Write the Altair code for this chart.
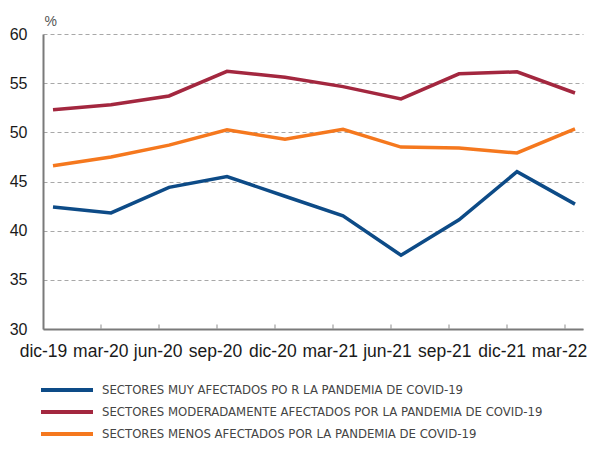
import altair as alt
import pandas as pd

periods = ["dic-19", "mar-20", "jun-20", "sep-20", "dic-20", "mar-21", "jun-21", "sep-21", "dic-21", "mar-22"]
series_names = [
    "SECTORES MUY AFECTADOS PO R LA PANDEMIA DE COVID-19",
    "SECTORES MODERADAMENTE AFECTADOS POR LA PANDEMIA DE COVID-19",
    "SECTORES MENOS AFECTADOS POR LA PANDEMIA DE COVID-19",
]
muy = [42.4, 41.8, 44.4, 45.5, 43.5, 41.5, 37.5, 41.1, 46.0, 42.7]
moderado = [52.3, 52.8, 53.7, 56.2, 55.6, 54.65, 53.4, 55.95, 56.15, 54.0]
menos = [46.6, 47.5, 48.7, 50.25, 49.3, 50.3, 48.5, 48.4, 47.9, 50.35]
colors = ["#0d4b87", "#a3273f", "#f5781e"]
y_ticks = [30, 35, 40, 45, 50, 55, 60]

W, H = 540, 295
STEP = 58.0
OFF = 10.0 / STEP
LSTEP = 57.33

rows = []
for name, vals in zip(series_names, [muy, moderado, menos]):
    for i, (p, v) in enumerate(zip(periods, vals)):
        rows.append({"serie": name, "periodo": p, "pos": i + OFF, "valor": v})
df = pd.DataFrame(rows)

tick_df = pd.DataFrame({"pos": list(range(1, len(periods))), "y0": [30] * 9, "y1": [30.45] * 9})
legend_df = pd.DataFrame({"serie": series_names, "idx": list(range(len(series_names)))})

label_vals = [LSTEP * k / STEP for k in range(len(periods))]
label_arr = "[" + ",".join("'%s'" % p for p in periods) + "]"

xscale = alt.Scale(domain=[0, W / STEP], nice=False, zero=False)
yscale = alt.Scale(domain=[30, 60], nice=False, zero=False)
cscale = alt.Scale(domain=series_names, range=colors)

lines = alt.Chart(df).mark_line(strokeWidth=3.5, strokeJoin="miter").encode(
    x=alt.X("pos:Q", scale=xscale, axis=alt.Axis(
        values=label_vals,
        labelExpr=label_arr + "[round(datum.value*%s/%s)]" % (STEP, LSTEP),
        title=None, ticks=False, grid=False,
        domainColor="#7a7a7a", domainWidth=2,
        labelFont="Liberation Sans", labelFontSize=17.5, labelColor="#1a1a1a",
        labelPadding=13, labelAlign="center", labelFlush=False, labelOverlap=False,
    )),
    y=alt.Y("valor:Q", scale=yscale, axis=alt.Axis(
        values=y_ticks, title="%", titleAngle=0, titleAlign="left", titleBaseline="middle",
        titleX=1, titleY=-12.5, titleFontSize=14, titleFontWeight="normal",
        titleColor="#555555", titleFont="Liberation Sans",
        ticks=False, domainColor="#7a7a7a", domainWidth=2,
        grid=True, gridColor="#a8a8a8", gridDash=[4, 3], gridWidth=1,
        labelFont="Liberation Sans", labelFontSize=16, labelColor="#1a1a1a", labelPadding=16,
    )),
    color=alt.Color("serie:N", scale=cscale, legend=None),
)

ticks = alt.Chart(tick_df).mark_rule(color="#a0a0a0", strokeWidth=1.2).encode(
    x=alt.X("pos:Q", scale=xscale),
    y=alt.Y("y0:Q", scale=yscale),
    y2="y1:Q",
)

base = alt.layer(ticks, lines)

leg_y = alt.Y("idx:Q", scale=alt.Scale(domain=[0, 2], range=[356, 400]), axis=None)
leg_sym = alt.Chart(legend_df).mark_rule(strokeWidth=4).encode(
    x=alt.value(-2), x2=alt.value(50), y=leg_y,
    color=alt.Color("serie:N", scale=cscale, legend=None),
)
leg_txt = alt.Chart(legend_df).mark_text(
    align="left", baseline="middle", font="DejaVu Sans Condensed", fontSize=13, color="#444444",
).encode(x=alt.value(59), y=leg_y, text="serie:N")

chart = alt.layer(base, leg_sym, leg_txt).resolve_scale(y="independent").properties(
    width=W, height=H,
    autosize=alt.AutoSizeParams(type="none"),
    padding={"left": 35, "top": 26, "right": 4, "bottom": 116},
).configure_view(stroke=None)

chart.save("out.html", embed_options={"renderer": "svg", "actions": False})
